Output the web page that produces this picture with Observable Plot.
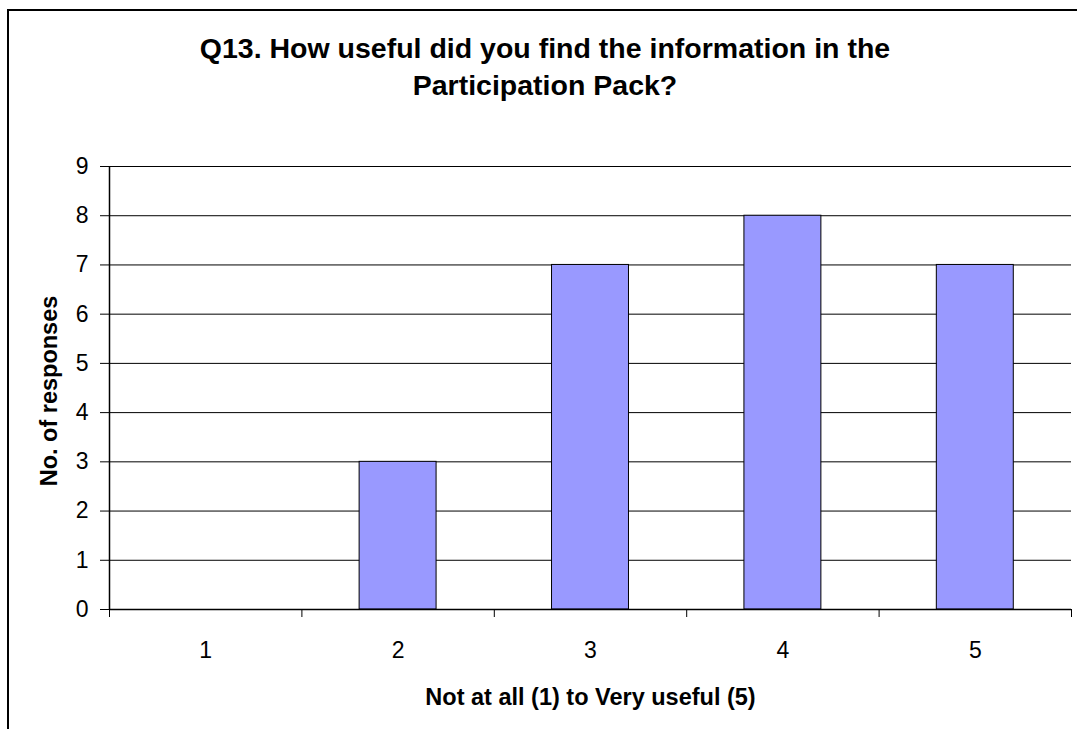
<!DOCTYPE html>
<html>
<head>
<meta charset="utf-8">
<script src="https://cdn.jsdelivr.net/npm/d3@7"></script>
<script src="https://cdn.jsdelivr.net/npm/@observablehq/plot@0.6"></script>
<style>
  html, body { margin: 0; padding: 0; background: #fff; }
  body { width: 1077px; height: 729px; overflow: hidden; position: relative; font-family: "Liberation Sans", Arial, sans-serif; color: #000; }
  #box { position: absolute; left: 7px; top: 9px; width: 1076px; height: 760px; border-left: 2px solid #000; border-top: 2px solid #000; box-sizing: border-box; }
  #title { position: absolute; left: 7px; width: 1076px; top: 30px; text-align: center; font-weight: bold; font-size: 28.5px; line-height: 37px; margin: 0; }
  #chart { position: absolute; left: 0; top: 110px; }
</style>
</head>
<body>
<div id="box"></div>
<div id="title">Q13. How useful did you find the information in the<br>Participation Pack?</div>
<div id="chart"></div>
<script>
const categories = [1, 2, 3, 4, 5];
const responses = [0, 3, 7, 8, 7];
const yTicks = [0, 1, 2, 3, 4, 5, 6, 7, 8, 9];
const xBoundaries = [0.5, 1.5, 2.5, 3.5, 4.5, 5.5];
const yLabel = "No. of responses";
const xLabel = "Not at all (1) to Very useful (5)";

const data = categories.map((c, i) => ({ rating: c, count: responses[i] }));

const chart = Plot.plot({
  width: 1077,
  height: 619,
  marginLeft: 109,
  marginRight: 6,
  marginTop: 56,
  marginBottom: 120,
  style: { fontFamily: "'Liberation Sans', Arial, sans-serif", fontSize: "23px", background: "transparent", color: "#000", overflow: "visible" },
  x: { domain: [0.5, 5.5] },
  y: { domain: [0, 9] },
  marks: [
    Plot.gridY(yTicks, { stroke: "#000", strokeOpacity: 1, strokeWidth: 1 }),
    Plot.rectY(data.filter(d => d.count > 0), {
      x1: d => d.rating - 0.2,
      x2: d => d.rating + 0.2,
      y: "count",
      fill: "#9999FF",
      stroke: "#000",
      strokeWidth: 1
    }),
    Plot.ruleX([xBoundaries[0]], { stroke: "#000", strokeWidth: 1.5 }),
    Plot.ruleY([0], { stroke: "#000", strokeWidth: 1.5 }),
    Plot.axisY(yTicks, { tickSize: 9, tickPadding: 12, tickFormat: d3.format("d"), label: null, stroke: "#000", strokeOpacity: 1, fontSize: 23 }),
    Plot.axisX(categories, { tickSize: 0, tickPadding: 32, tickFormat: d3.format("d"), label: null, fontSize: 23 }),
    Plot.axisX(xBoundaries, { tickSize: 8, tickFormat: () => "", label: null, stroke: "#000", strokeOpacity: 1 }),
    Plot.text([yLabel], { frameAnchor: "left", textAnchor: "middle", rotate: -90, dx: -60, dy: 3, fontWeight: "bold", fontSize: 23.5, fill: "#000" }),
    Plot.text([xLabel], { frameAnchor: "bottom", dy: 95, fontWeight: "bold", fontSize: 23.5, fill: "#000" })
  ]
});
document.getElementById("chart").appendChild(chart);
</script>
</body>
</html>
